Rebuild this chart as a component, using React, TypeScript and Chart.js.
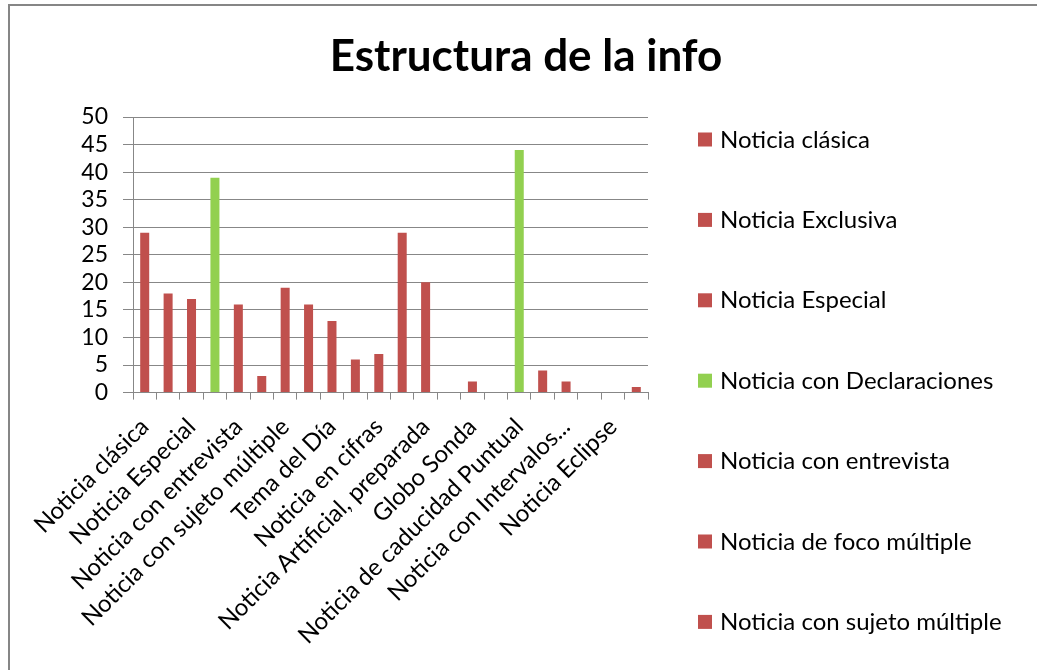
import React, { useEffect, useRef } from 'react';
import { Chart, registerables } from 'chart.js';

Chart.register(...registerables);

const TITLE = 'Estructura de la info';

const categories = [
  'Noticia clásica',
  'Noticia Exclusiva',
  'Noticia Especial',
  'Noticia con Declaraciones',
  'Noticia con entrevista',
  'Noticia de foco múltiple',
  'Noticia con sujeto múltiple',
  'Noticia de Servicio',
  'Tema del Día',
  'Noticia Interpretativa',
  'Noticia en cifras',
  'Noticia de Denuncia',
  'Noticia Artificial, preparada',
  'Noticia Rumor',
  'Globo Sonda',
  'Noticia de Continuidad',
  'Noticia de caducidad Puntual',
  'Noticia Efeméride',
  'Noticia con Intervalos...',
  'Noticia Breve',
  'Noticia Eclipse',
  'Noticia Suceso',
];

const values = [29, 18, 17, 39, 16, 3, 19, 16, 13, 6, 7, 29, 20, 0, 2, 0, 44, 4, 2, 0, 0, 1];

const greenCategories = ['Noticia con Declaraciones', 'Noticia de caducidad Puntual'];

const yMin = 0;
const yMax = 50;
const yStep = 5;

const RED = '#C0504D';
const GREEN = '#92D050';
const GRID = '#878787';
const FONT = 'Lato';

const colorFor = (c: string) => (greenCategories.includes(c) ? GREEN : RED);

const framePlugin = {
  id: 'frame',
  beforeDraw(chart: any) {
    const ctx = chart.ctx;
    ctx.save();
    ctx.fillStyle = '#ffffff';
    ctx.fillRect(0, 0, chart.width, chart.height);
    ctx.restore();
  },
  afterDraw(chart: any) {
    const ctx = chart.ctx;
    ctx.save();
    // outer frame
    ctx.strokeStyle = '#868686';
    ctx.lineWidth = 2;
    ctx.beginPath();
    ctx.moveTo(9, chart.height + 2);
    ctx.lineTo(9, 5);
    ctx.lineTo(chart.width + 2, 5);
    ctx.stroke();
    // title
    ctx.fillStyle = '#000000';
    ctx.font = `bold 44px ${FONT}`;
    ctx.textAlign = 'center';
    ctx.textBaseline = 'alphabetic';
    ctx.fillText(TITLE, 526, 71);
    // legend (one entry per category, cut off by the frame)
    ctx.font = `24px ${FONT}`;
    ctx.textAlign = 'left';
    categories.forEach((c, i) => {
      const cy = 139.5 + i * 80.4;
      ctx.fillStyle = colorFor(c);
      ctx.fillRect(698, cy - 7, 14, 14);
      ctx.fillStyle = '#000000';
      ctx.fillText(c, 720, cy + 8);
    });
    ctx.restore();
  },
};

export default function App() {
  const ref = useRef<HTMLCanvasElement | null>(null);

  useEffect(() => {
    if (!ref.current) return;
    const chart = new Chart(ref.current, {
      type: 'bar',
      data: {
        labels: categories,
        datasets: [
          {
            label: TITLE,
            data: values,
            backgroundColor: categories.map(colorFor),
            borderWidth: 0,
            barPercentage: 0.385,
            categoryPercentage: 1,
          },
        ],
      },
      options: {
        responsive: false,
        animation: false,
        events: [],
        layout: { padding: { top: 117, left: 0, right: 389, bottom: 0 } },
        plugins: {
          legend: { display: false },
          title: { display: false },
          tooltip: { enabled: false },
        },
        scales: {
          x: {
            grid: {
              display: true,
              offset: true,
              drawOnChartArea: false,
              drawTicks: true,
              tickLength: 7,
              color: GRID,
            },
            border: { display: true, color: GRID },
            ticks: {
              autoSkip: false,
              maxRotation: 45,
              minRotation: 45,
              padding: 13,
              color: '#000000',
              font: { family: FONT, size: 24 },
              callback: (_v: any, i: number) => (i % 2 === 0 ? categories[i] : ''),
            },
            afterFit: (s: any) => {
              s.height = 670 - 392.6;
              s.paddingLeft = 0;
              s.paddingRight = 0;
            },
          },
          y: {
            min: yMin,
            max: yMax,
            grid: { color: GRID, tickLength: 10, drawTicks: true },
            border: { display: true, color: GRID },
            ticks: {
              stepSize: yStep,
              autoSkip: false,
              padding: 15,
              color: '#000000',
              font: { family: FONT, size: 23 },
            },
            afterFit: (s: any) => {
              s.width = 133;
              s.paddingTop = 0;
              s.paddingBottom = 0;
            },
          },
        },
      },
      plugins: [framePlugin],
    });
    return () => chart.destroy();
  }, []);

  return (
    <div style={{ position: 'fixed', left: 0, top: 0, width: 1037, height: 670, background: '#fff' }}>
      <canvas ref={ref} width={1037} height={670} style={{ display: 'block' }} />
    </div>
  );
}
